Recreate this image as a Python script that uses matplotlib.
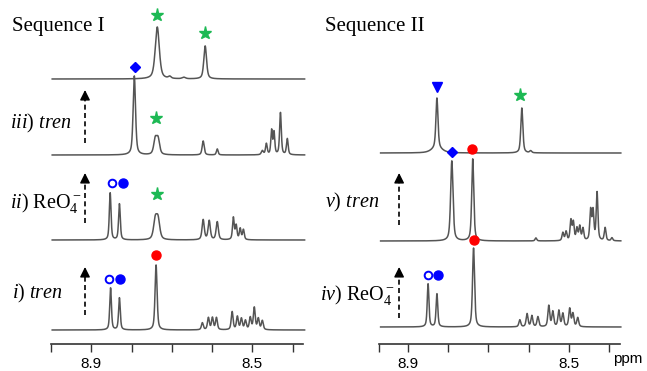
import numpy as np
import matplotlib
matplotlib.use("Agg")
import matplotlib.pyplot as plt

plt.rcParams['mathtext.fontset'] = 'custom'
plt.rcParams['mathtext.rm'] = 'Liberation Serif'
plt.rcParams['mathtext.it'] = 'Liberation Serif:italic'

W, H = 647, 371
fig = plt.figure(figsize=(W / 100, H / 100), dpi=100)

# ---------------- data (ppm, height in px above axis, FWHM ppm) -------------
# Sequence I
seq1_labels = [r"$\it{i}$) $\it{tren}$", r"$\it{ii}$) $\mathrm{ReO}_4^-$", r"$\it{iii}$) $\it{tren}$", ""]
seq1_offsets = [14, 104, 189, 265]
seq1_i_ppm = [8.852, 8.830, 8.739, 8.624, 8.609, 8.599, 8.589, 8.550, 8.537, 8.527, 8.517, 8.505, 8.495, 8.485, 8.475]
seq1_i_h = [42, 32, 65, 7, 12, 12, 12, 18, 13, 11, 9, 12, 22, 11, 9]
seq1_i_w = [0.005, 0.005, 0.006] + [0.0055] * 12
seq1_ii_ppm = [8.853, 8.830, 8.741, 8.734, 8.622, 8.607, 8.587, 8.547, 8.540, 8.530, 8.522]
seq1_ii_h = [47, 36, 19, 19, 20, 19, 18, 22, 14, 11, 10]
seq1_ii_w = [0.005, 0.005, 0.010, 0.010, 0.0065, 0.0065, 0.0065, 0.005, 0.005, 0.005, 0.005]
seq1_iii_ppm = [8.793, 8.741, 8.734, 8.622, 8.587, 8.475, 8.465, 8.452, 8.446, 8.430, 8.413]
seq1_iii_h = [79, 15, 15, 14, 6, 4, 11, 24, 22, 42, 16]
seq1_iii_w = [0.007, 0.009, 0.009, 0.006, 0.005, 0.006, 0.005, 0.0045, 0.0045, 0.005, 0.005]
seq1_top_ppm = [8.736, 8.617, 8.705, 8.670]
seq1_top_h = [52, 33, 2, 1.5]
seq1_top_w = [0.012, 0.008, 0.008, 0.010]

# Sequence II
seq2_labels = [r"$\it{iv}$) $\mathrm{ReO}_4^-$", r"$\it{v}$) $\it{tren}$", ""]
seq2_offsets = [17, 103, 191]
seq2_iv_ppm = [8.850, 8.828, 8.737, 8.622, 8.604, 8.592, 8.577, 8.550, 8.540, 8.525, 8.515, 8.498, 8.490, 8.478]
seq2_iv_h = [43, 33, 79, 7, 13, 11, 10, 21, 15, 16, 13, 18, 13, 9]
seq2_iv_w = [0.005, 0.005, 0.006] + [0.0055] * 11
seq2_v_ppm = [8.791, 8.739, 8.582, 8.515, 8.507, 8.495, 8.489, 8.480, 8.473, 8.465, 8.446, 8.440, 8.430, 8.410, 8.393]
seq2_v_h = [80, 82, 3, 8, 9, 20, 18, 12, 14, 12, 30, 29, 48, 13, 3]
seq2_v_w = [0.007, 0.006] + [0.005] * 13
seq2_top_ppm = [8.828, 8.828, 8.617, 8.595]
seq2_top_h = [50, 5, 45, 2]
seq2_top_w = [0.006, 0.03, 0.006, 0.006]

seq1_spectra = [(seq1_i_ppm, seq1_i_h, seq1_i_w), (seq1_ii_ppm, seq1_ii_h, seq1_ii_w),
                (seq1_iii_ppm, seq1_iii_h, seq1_iii_w), (seq1_top_ppm, seq1_top_h, seq1_top_w)]
seq2_spectra = [(seq2_iv_ppm, seq2_iv_h, seq2_iv_w), (seq2_v_ppm, seq2_v_h, seq2_v_w),
                (seq2_top_ppm, seq2_top_h, seq2_top_w)]

# markers: (ppm, height px above axis)
seq1_open = [(8.848, 161), (8.855, 65)]
seq1_fill = [(8.820, 161), (8.828, 65)]
seq1_star = [(8.736, 329), (8.617, 311), (8.738, 226), (8.736, 150)]
seq1_diam = [(8.791, 277)]
seq1_red = [(8.738, 89)]
seq2_open = [(8.850, 69)]
seq2_fill = [(8.825, 69)]
seq2_star = [(8.622, 249)]
seq2_diam = [(8.791, 192)]
seq2_red = [(8.741, 195), (8.736, 104)]
seq2_tri = [(8.828, 257)]

axis_y = 344  # pixel row of the ppm axis


def px(x, y):
    return x / W, 1 - y / H


def spectrum(x, ppm, h, w, eta=0.55):
    y = np.zeros_like(x)
    for p, a, fw in zip(ppm, h, w):
        g = fw / 2
        lor = g * g / ((x - p) ** 2 + g * g)
        gau = np.exp(-np.log(2) * ((x - p) / g) ** 2)
        y += a * (eta * lor + (1 - eta) * gau)
    return y


def make_axes(left_px, right_px, xl, xr, ticks, labels):
    ax = fig.add_axes([left_px / W, (H - axis_y) / H, (right_px - left_px) / W, axis_y / H])
    ax.set_xlim(xl, xr)
    ax.set_ylim(0, axis_y)
    ax.patch.set_alpha(0)
    for s in ['left', 'right', 'top']:
        ax.spines[s].set_visible(False)
    ax.spines['bottom'].set_linewidth(1.2)
    ax.spines['bottom'].set_color('#333333')
    ax.set_yticks([])
    ax.set_xticks(ticks)
    ax.set_xticklabels(labels, fontsize=11, family='Liberation Sans')
    ax.tick_params(axis='x', direction='out', length=6, width=1.0, color='#333333', pad=3)
    return ax


axL = make_axes(51, 303, 9.0, 8.374, [9.0, 8.9, 8.8, 8.7, 8.6, 8.5, 8.4],
                ['', '8.9', '', '', '', '8.5', ''])
axR = make_axes(379, 620, 8.972, 8.373, [8.972, 8.9, 8.8, 8.7, 8.6, 8.5, 8.4],
                ['', '8.9', '', '', '', '8.5', ''])

spec_color = '#555555'
xL = np.linspace(8.997, 8.370, 3000)
for off, (p, h, w) in zip(seq1_offsets, seq1_spectra):
    axL.plot(xL, off + spectrum(xL, p, h, w), color=spec_color, lw=1.1, clip_on=False)
xR = np.linspace(8.968, 8.371, 3000)
for off, (p, h, w) in zip(seq2_offsets, seq2_spectra):
    axR.plot(xR, off + spectrum(xR, p, h, w), color=spec_color, lw=1.1, clip_on=False)

blue = '#0000ff'
green = '#1db954'
red = '#ff0000'


def marks(ax, pts, **kw):
    if pts:
        xs, ys = zip(*pts)
        ax.plot(xs, ys, ls='none', clip_on=False, **kw)


for ax, op, fl, st, di, rd in [(axL, seq1_open, seq1_fill, seq1_star, seq1_diam, seq1_red),
                               (axR, seq2_open, seq2_fill, seq2_star, seq2_diam, seq2_red)]:
    marks(ax, op, marker='o', ms=5.5, mfc='white', mec=blue, mew=1.4)
    marks(ax, fl, marker='o', ms=6.5, mfc=blue, mec=blue)
    marks(ax, st, marker='*', ms=9.5, mfc=green, mec=green)
    marks(ax, di, marker='D', ms=5.5, mfc=blue, mec=blue)
    marks(ax, rd, marker='o', ms=6.5, mfc=red, mec=red)
marks(axR, seq2_tri, marker='v', ms=7.5, mfc=blue, mec=blue)

# dashed arrows
arrowsL = [(8.9155, 29, 77), (8.9155, 121, 171), (8.9155, 201, 254)]
arrowsR = [(8.922, 26, 77), (8.922, 119, 171)]
for ax, arrs in [(axL, arrowsL), (axR, arrowsR)]:
    for x, y0, y1 in arrs:
        ax.plot([x, x], [y0, y1 - 6], color='black', lw=1.2, ls=(0, (3, 2)), clip_on=False)
        ax.annotate('', xy=(x, y1), xytext=(x, y1 - 7),
                    arrowprops=dict(arrowstyle='-|>,head_length=0.6,head_width=0.3',
                                    color='black', lw=1.0, shrinkA=0, shrinkB=0))

# text labels
tf = dict(family='Liberation Serif', fontsize=15)
fig.text(*px(12, 27), 'Sequence I', va='center', ha='left', **tf)
fig.text(*px(325, 27), 'Sequence II', va='center', ha='left', **tf)
lab_fs = 14.5
left_label_pos = [(12, 293), (10, 203), (10, 123)]
for (x, y), t in zip(left_label_pos, seq1_labels[:3]):
    fig.text(*px(x, y), t, va='center', ha='left', family='Liberation Serif', fontsize=lab_fs)
right_label_pos = [(320, 295), (325, 202)]
for (x, y), t in zip(right_label_pos, seq2_labels[:2]):
    fig.text(*px(x, y), t, va='center', ha='left', family='Liberation Serif', fontsize=lab_fs)
fig.text(*px(628, 359), 'ppm', va='center', ha='center', family='Liberation Sans', fontsize=11)

fig.savefig('out.png', dpi=100)
